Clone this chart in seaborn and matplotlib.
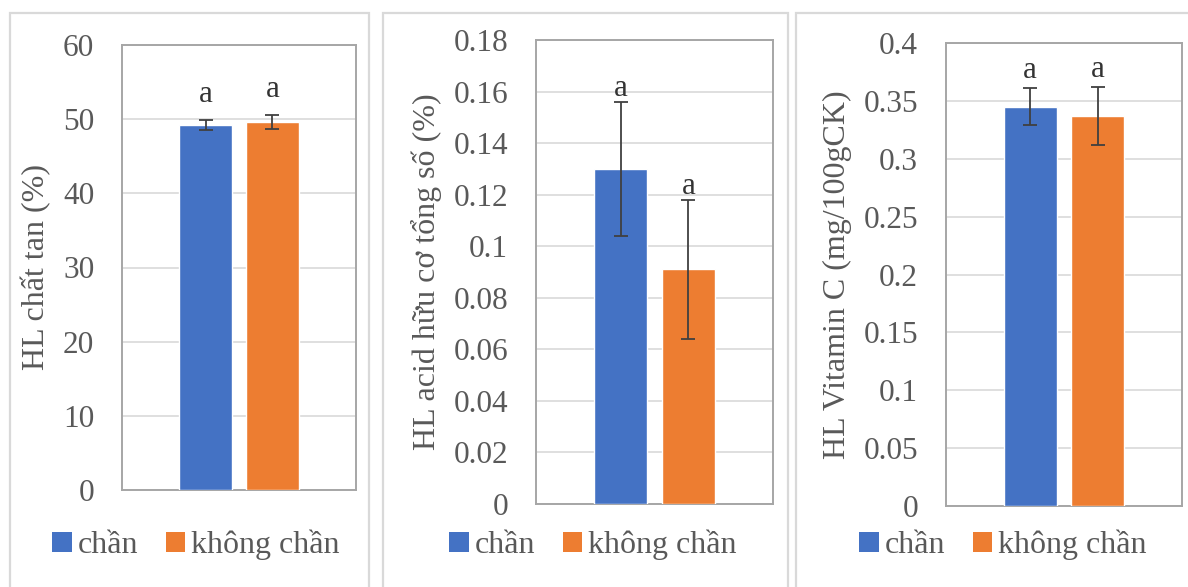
import matplotlib
matplotlib.use("Agg")
import matplotlib.pyplot as plt
from matplotlib.patches import Patch, Rectangle
import seaborn as sns
import pandas as pd

# Treatments and their colours
groups = ["chần", "không chần"]
colors = ["#4472C4", "#ED7D31"]

# Soluble solids content (%)
solute_mean = [49.2, 49.6]
solute_err = [0.7, 0.9]
solute_letters = ["a", "a"]
solute_ticks = [0, 10, 20, 30, 40, 50, 60]
solute_ticklabels = ["0", "10", "20", "30", "40", "50", "60"]

# Total organic acid (%)
acid_mean = [0.130, 0.091]
acid_err = [0.026, 0.027]
acid_letters = ["a", "a"]
acid_ticks = [0, 0.02, 0.04, 0.06, 0.08, 0.10, 0.12, 0.14, 0.16, 0.18]
acid_ticklabels = ["0", "0.02", "0.04", "0.06", "0.08", "0.1", "0.12", "0.14", "0.16", "0.18"]

# Vitamin C (mg/100g dry matter)
vitc_mean = [0.345, 0.337]
vitc_err = [0.016, 0.025]
vitc_letters = ["a", "a"]
vitc_ticks = [0, 0.05, 0.10, 0.15, 0.20, 0.25, 0.30, 0.35, 0.40]
vitc_ticklabels = ["0", "0.05", "0.1", "0.15", "0.2", "0.25", "0.3", "0.35", "0.4"]

ylabels = ["HL chất tan (%)", "HL acid hữu cơ tổng số (%)", "HL Vitamin C (mg/100gCK)"]

sns.set_theme(style="white")
plt.rcParams["font.family"] = ["Liberation Serif", "DejaVu Serif"]
plt.rcParams["font.size"] = 22

W, H = 1188, 587
fig = plt.figure(figsize=(W / 100, H / 100), dpi=100)
fig.patch.set_facecolor("white")


def fx(px):
    return px / W


def fy(py):
    return 1 - py / H


# Chart frames (left, right in px)
frames = [(10, 369), (383, 788), (796, 1240)]
for left, right in frames:
    fig.patches.append(Rectangle((fx(left), -0.1), fx(right - left), fy(13) + 0.1,
                                 transform=fig.transFigure, fill=False,
                                 edgecolor="#d9d9d9", linewidth=1.6, zorder=0))

# Plot areas: left, right, top, bottom in px
areas = [(122, 356, 45, 490), (536, 773, 40, 504), (946, 1182, 43, 506)]
label_x = [36, 426, 837]
legend_x = [196, 593, 1003]
letter_offset = [8, -1, 2]

panels = [
    (solute_mean, solute_err, solute_letters, solute_ticks, solute_ticklabels),
    (acid_mean, acid_err, acid_letters, acid_ticks, acid_ticklabels),
    (vitc_mean, vitc_err, vitc_letters, vitc_ticks, vitc_ticklabels),
]

for i, (mean, err, letters, ticks, ticklabels) in enumerate(panels):
    l, r, t, b = areas[i]
    ax = fig.add_axes([fx(l), fy(b), fx(r - l), fy(t) - fy(b)])
    df = pd.DataFrame({"group": groups, "value": mean})
    sns.barplot(data=df, x="group", y="value", hue="group", palette=colors,
                width=0.78, ax=ax, legend=False, saturation=1, zorder=3)
    ax.errorbar(range(len(groups)), mean, yerr=err, fmt="none", ecolor="#404040",
                elinewidth=1.3, capsize=5, capthick=1.3, zorder=4)
    for j, letter in enumerate(letters):
        ax.annotate(letter, (j, mean[j] + err[j]), xytext=(0, letter_offset[i]),
                    textcoords="offset points", ha="center", va="bottom",
                    fontsize=22.5, color="#333333", zorder=5)
    ax.set_xlim(-1.25, 2.25)
    ax.set_ylim(ticks[0], ticks[-1])
    ax.set_yticks(ticks)
    ax.set_yticklabels(ticklabels)
    ax.set_xticks([])
    ax.set_xlabel("")
    ax.grid(axis="y", color="#d9d9d9", linewidth=1.2, zorder=0)
    ax.set_axisbelow(True)
    ax.tick_params(axis="y", length=0, pad=20, labelsize=22.5, labelcolor="#595959")
    for s in ax.spines.values():
        s.set_color("#a6a6a6")
        s.set_linewidth(1.4)
    ax.set_ylabel(ylabels[i], fontsize=23, color="#595959")
    ax.yaxis.label.set_va("center")
    ax.yaxis.set_label_coords((label_x[i] - l) / (r - l), 0.5)

    handles = [Patch(facecolor=c, edgecolor="none") for c in colors]
    ax.legend(handles, groups, loc="center", ncol=2, frameon=False,
              bbox_to_anchor=(fx(legend_x[i]), fy(545)), bbox_transform=fig.transFigure,
              handlelength=0.6, handleheight=0.6, handletextpad=0.2,
              columnspacing=0.85, fontsize=23, labelcolor="#595959")

fig.savefig("out.png", dpi=100, facecolor="white")
